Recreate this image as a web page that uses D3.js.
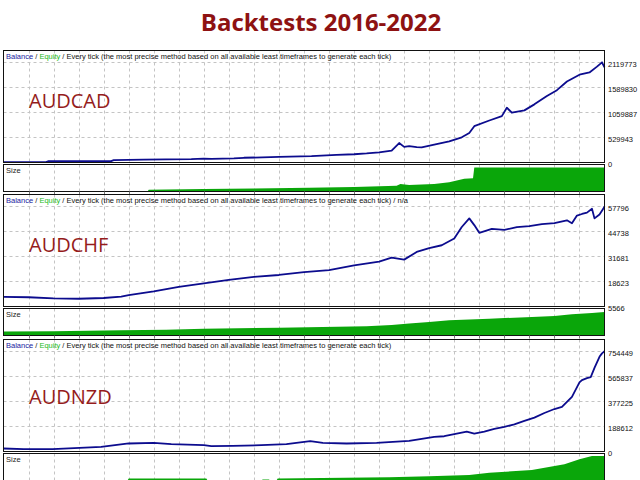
<!DOCTYPE html>
<html><head><meta charset="utf-8">
<script src="https://cdn.jsdelivr.net/npm/d3@7"></script>
<style>body{margin:0;background:#fff}svg{display:block}</style>
</head><body><svg id="c" width="640" height="480"></svg>
<script>
// ---------- data ----------
const title = "Backtests 2016-2022";
const symbols = ["AUDCAD", "AUDCHF", "AUDNZD"];
const headerMain = "Every tick (the most precise method based on all available least timeframes to generate each tick)";
const headerSuffix = ["", " / n/a", ""];
const sizeLabel = "Size";
const gridUnits = d3.range(1, 24); // vertical grid divisions (x in grid units 0..24)

// AUDCAD
const audcadX = [0, 1.7, 1.8, 4.3, 4.4, 5.6, 6.5, 7.5, 8.0, 8.3, 9.2, 9.6, 11.0, 12.3, 13.3, 14.0, 14.5, 15.0, 15.5, 15.8, 16.0, 16.2, 16.5, 16.7, 17.2, 17.8, 18.3, 18.6, 18.8, 19.4, 19.9, 20.1, 20.3, 20.8, 21.2, 21.7, 22.1, 22.5, 23.0, 23.4, 23.7, 23.9, 24];
const audcadBalance = [8000, 9000, 28000, 31000, 50000, 60000, 68000, 72000, 82000, 76000, 88000, 100000, 118000, 135000, 160000, 175000, 192000, 215000, 249000, 412000, 330000, 345000, 325000, 320000, 377000, 448000, 533000, 626000, 768000, 889000, 982000, 1160000, 1053000, 1103000, 1230000, 1408000, 1530000, 1714000, 1857000, 1906000, 2028000, 2119773, 2013000];
const audcadTicks = [0, 529943, 1059887, 1589830, 2119773];
const audcadSizeX = [0, 5.75, 5.8, 8, 10, 12.2, 14, 15.7, 15.85, 16.2, 17.2, 17.8, 18.4, 18.75, 18.8, 24];
const audcadSize = [0, 0, 0.13, 0.18, 0.22, 0.28, 0.34, 0.43, 0.55, 0.49, 0.55, 0.68, 0.94, 0.98, 1.78, 1.78];

// AUDCHF
const audchfX = [0, 1, 2, 3, 4, 4.7, 5, 6, 7, 8, 9, 10, 11, 12, 13, 14, 15, 15.5, 16, 16.5, 17, 17.5, 18, 18.3, 18.6, 18.8, 19, 19.5, 20, 20.5, 21, 21.5, 22, 22.5, 22.7, 22.9, 23.1, 23.3, 23.5, 23.6, 23.8, 23.95, 24];
const audchfBalance = [10600, 10400, 9800, 9600, 10000, 10700, 11500, 13500, 15800, 17600, 19500, 21000, 22000, 23500, 24500, 27000, 29000, 31000, 30000, 34000, 36000, 37500, 41000, 47000, 51500, 48000, 44000, 46000, 45500, 47000, 47500, 48500, 49000, 50500, 49000, 53000, 53800, 54500, 56500, 51500, 53500, 56500, 57796];
const audchfTicks = [5566, 18623, 31681, 44738, 57796];
const audchfSizeX = [0, 2, 4.7, 6.5, 8, 11, 14.5, 15.5, 16.2, 17.0, 17.8, 19.4, 21.1, 22.0, 22.7, 23.5, 24];
const audchfSize = [0.30, 0.32, 0.38, 0.42, 0.50, 0.58, 0.68, 0.78, 0.88, 1.0, 1.13, 1.25, 1.37, 1.45, 1.58, 1.66, 1.75];

// AUDNZD
const audnzdX = [0, 0.8, 1.96, 3.9, 5.0, 6.0, 6.7, 8.0, 8.3, 9.15, 10.3, 11.3, 12.25, 12.75, 13.7, 14.9, 16.2, 16.7, 17.2, 17.6, 18, 18.5, 18.8, 19.2, 19.6, 20, 20.4, 20.8, 21.2, 21.6, 22, 22.3, 22.7, 23, 23.1, 23.3, 23.45, 23.6, 23.8, 23.9, 24];
const audnzdBalance = [22600, 17400, 17400, 34700, 60400, 64900, 55000, 47500, 40000, 42200, 47500, 55000, 77700, 64900, 60400, 64900, 80000, 95000, 110000, 115000, 130000, 150000, 135000, 150000, 170000, 185000, 205000, 230000, 255000, 290000, 320000, 336000, 412000, 520000, 538000, 553000, 560000, 630000, 713000, 739000, 754449];
const audnzdTicks = [0, 188612, 377225, 565837, 754449];
const audnzdSizeX = [0, 4.95, 5.0, 8.1, 8.15, 10.3, 10.35, 10.6, 10.65, 10.9, 10.95, 15.4, 17, 18.6, 19.4, 21.1, 22.4, 23, 23.5, 24];
const audnzdSize = [0, 0, 0.14, 0.14, 0, 0, 0.08, 0.08, 0, 0, 0.14, 0.25, 0.32, 0.4, 0.58, 0.77, 1.2, 1.58, 1.82, 1.82];

const panels = [
  {sym: symbols[0], x: audcadX, y: audcadBalance, ticks: audcadTicks, sx: audcadSizeX, s: audcadSize, suffix: headerSuffix[0]},
  {sym: symbols[1], x: audchfX, y: audchfBalance, ticks: audchfTicks, sx: audchfSizeX, s: audchfSize, suffix: headerSuffix[1]},
  {sym: symbols[2], x: audnzdX, y: audnzdBalance, ticks: audnzdTicks, sx: audnzdSizeX, s: audnzdSize, suffix: headerSuffix[2]}
];

// ---------- layout ----------
const tops = [50.5, 194.5, 339.5];
const labelOffsets = [57.5, 57.5, 64];
const left = 3.5, right = 604.5, mainH = 112, sizeGap = 2, sizeH = 27;
const sizeMax = 2.0;

const svg = d3.select("#c");
svg.append("text").attr("x", 321).attr("y", 31).attr("text-anchor", "middle")
  .attr("font-family", "Open Sans").attr("font-weight", "bold").attr("font-size", 24)
  .attr("fill", "#8e1212").text(title);

const x = d3.scaleLinear().domain([0, 24]).range([left, right]);
const small = "Liberation Sans";

panels.forEach((p, i) => {
  const top = tops[i], bottom = top + mainH;
  const sTop = bottom + sizeGap, sBottom = sTop + sizeH;
  const t0 = p.ticks[0], t1 = p.ticks[p.ticks.length - 1];
  const y = d3.scaleLinear().domain([t0, t1 + (t1 - t0) * 0.118]).range([bottom, top]);
  const ys = d3.scaleLinear().domain([0, sizeMax]).range([sBottom, sTop]);
  const g = svg.append("g");

  g.selectAll(".vg").data(gridUnits).join("line")
    .attr("x1", d => Math.round(x(d)) + 0.5).attr("x2", d => Math.round(x(d)) + 0.5)
    .attr("y1", top).attr("y2", bottom)
    .attr("stroke", "#c4c4c4").attr("stroke-dasharray", "3,3");
  g.selectAll(".hg").data(p.ticks.slice(1)).join("line")
    .attr("x1", left).attr("x2", right)
    .attr("y1", d => Math.round(y(d)) + 0.5).attr("y2", d => Math.round(y(d)) + 0.5)
    .attr("stroke", "#c4c4c4").attr("stroke-dasharray", "3,3");

  g.selectAll(".vgs").data(gridUnits).join("line")
    .attr("x1", d => Math.round(x(d)) + 0.5).attr("x2", d => Math.round(x(d)) + 0.5)
    .attr("y1", sTop).attr("y2", sBottom)
    .attr("stroke", "#c4c4c4").attr("stroke-dasharray", "3,3");

  const sData = p.sx.map((d, k) => [d, p.s[k]]);
  g.append("path").datum(sData)
    .attr("d", d3.area().x(d => x(d[0])).y0(sBottom).y1(d => ys(d[1])))
    .attr("fill", "#0aa60a");

  const bData = p.x.map((d, k) => [d, p.y[k]]);
  g.append("path").datum(bData)
    .attr("d", d3.line().x(d => x(d[0])).y(d => y(d[1])))
    .attr("fill", "none").attr("stroke", "#0c0c8e").attr("stroke-width", 1.8)
    .attr("stroke-linejoin", "round");

  g.append("rect").attr("x", left).attr("y", top).attr("width", right - left).attr("height", mainH)
    .attr("fill", "none").attr("stroke", "#111").attr("stroke-width", 1);
  g.append("rect").attr("x", left).attr("y", sTop).attr("width", right - left).attr("height", sizeH)
    .attr("fill", "none").attr("stroke", "#111").attr("stroke-width", 1);

  g.selectAll(".bt").data(gridUnits).join("line")
    .attr("x1", d => Math.round(x(d)) + 0.5).attr("x2", d => Math.round(x(d)) + 0.5)
    .attr("y1", sBottom).attr("y2", sBottom + 3).attr("stroke", "#777");

  const ax = g.append("g").attr("transform", `translate(${right},0)`)
    .call(d3.axisRight(y).tickValues(p.ticks).tickSize(0).tickPadding(3.5).tickFormat(d3.format("d")));
  ax.select(".domain").remove();
  ax.selectAll("text").attr("font-family", small).attr("font-size", 7.5).attr("fill", "#111")
    .attr("dy", "0.5em");

  const h = g.append("text").attr("x", 6).attr("y", top + 8.8)
    .attr("font-family", small).attr("font-size", 7.5).attr("fill", "#111");
  h.append("tspan").attr("fill", "#1a1aa0").text("Balance");
  h.append("tspan").text(" / ");
  h.append("tspan").attr("fill", "#22bb22").text("Equity");
  h.append("tspan").text(" / " + headerMain + p.suffix);

  g.append("text").attr("x", 6).attr("y", sTop + 8.5)
    .attr("font-family", small).attr("font-size", 7.5).attr("fill", "#222").text(sizeLabel);

  g.append("text").attr("x", 29).attr("y", top + labelOffsets[i])
    .attr("font-family", "Open Sans").attr("font-size", 20).attr("fill", "#951c1c").text(p.sym);
});
</script></body></html>
